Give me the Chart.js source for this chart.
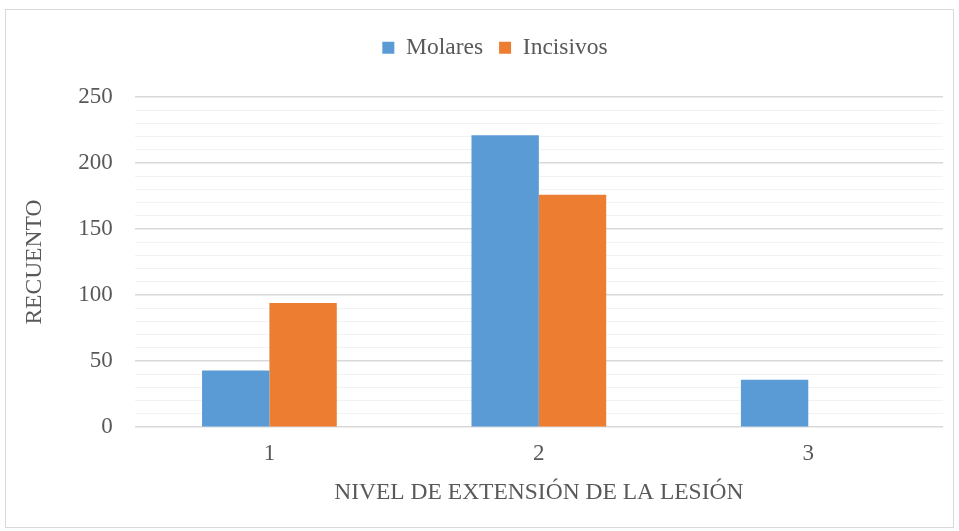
<!DOCTYPE html>
<html>
<head>
<meta charset="utf-8">
<script src="https://cdn.jsdelivr.net/npm/chart.js@4/dist/chart.umd.min.js"></script>
<style>
  html, body { margin: 0; padding: 0; background: #fff; }
  #frame { position: absolute; left: 5px; top: 9px; width: 949px; height: 519px; border: 1px solid #d9d9d9; box-sizing: border-box; }
  #wrap { position: absolute; left: 0; top: 0; width: 959px; height: 531px; }
</style>
</head>
<body>
<div id="frame"></div>
<div id="wrap"><canvas id="c" width="959" height="531"></canvas></div>
<script>
const categories = ['1', '2', '3'];
const molares = [43, 221, 36];
const incisivos = [94, 176, 0];
const yTicks = [0, 50, 100, 150, 200, 250];

const serif = '"Liberation Serif", "Times New Roman", serif';
const textColor = '#595959';
Chart.defaults.font.family = serif;
Chart.defaults.color = textColor;

// extra room between the legend and the plot area, and legend nudged right
const legendGap = {
  id: 'legendGap',
  beforeInit(chart) {
    const fit = chart.legend.fit;
    chart.legend.fit = function () {
      fit.call(this);
      this.height += 27.5;
    };
  },
  afterUpdate(chart) {
    chart.legend.left += 15;
    chart.legend.right += 15;
  }
};

new Chart(document.getElementById('c'), {
  type: 'bar',
  data: {
    labels: categories,
    datasets: [
      { label: 'Molares', data: molares, backgroundColor: '#5b9bd5', borderWidth: 0 },
      { label: 'Incisivos', data: incisivos, backgroundColor: '#ed7d31', borderWidth: 0 }
    ]
  },
  plugins: [legendGap],
  options: {
    responsive: false,
    animation: false,
    layout: { padding: { left: 17, right: 16, top: 20, bottom: 20 } },
    plugins: {
      legend: {
        position: 'top',
        labels: {
          font: { family: serif, size: 23.5 },
          color: textColor,
          boxWidth: 12,
          boxHeight: 12,
          padding: 16
        }
      },
      tooltip: { enabled: false }
    },
    datasets: { bar: { categoryPercentage: 0.5, barPercentage: 1.0 } },
    scales: {
      x: {
        grid: { display: false },
        border: { display: false },
        ticks: { font: { family: serif, size: 23 }, color: textColor, padding: 5 },
        title: { display: true, text: 'NIVEL DE EXTENSIÓN DE LA LESIÓN', font: { family: serif, size: 23.5 }, color: textColor, padding: { top: 6, bottom: 4 } }
      },
      y: {
        min: 0,
        max: 250,
        border: { display: false },
        grid: {
          drawTicks: false,
          color: ctx => (ctx.tick && ctx.tick.value % 50 === 0) ? '#d9d9d9' : '#f2f2f2',
          lineWidth: ctx => (ctx.tick && ctx.tick.value % 50 === 0) ? 1.5 : 1
        },
        ticks: {
          stepSize: 10,
          autoSkip: false,
          padding: 22,
          font: { family: serif, size: 23 },
          color: textColor,
          callback: v => yTicks.includes(v) ? String(v) : ''
        },
        title: { display: true, text: 'RECUENTO', font: { family: serif, size: 23.5 }, color: textColor, padding: { top: 4, bottom: 7 } }
      }
    }
  }
});
</script>
</body>
</html>
